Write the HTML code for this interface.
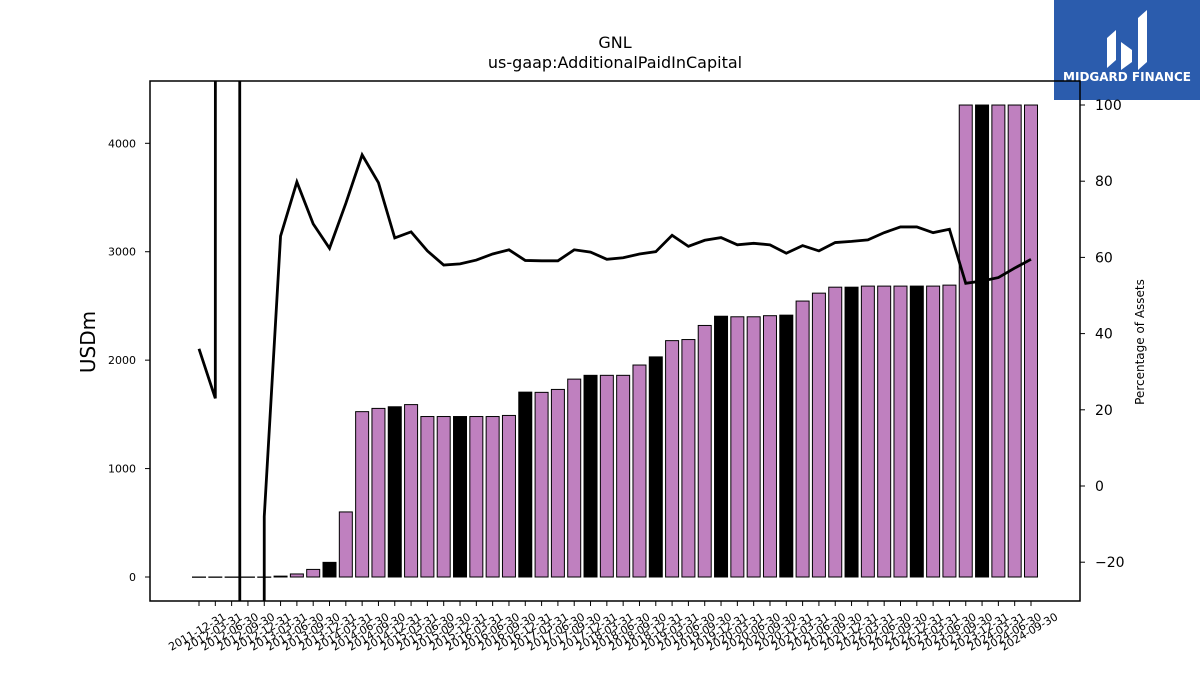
<!DOCTYPE html>
<html><head><meta charset="utf-8"><style>
html,body{margin:0;background:#fff;font-family:"Liberation Sans","DejaVu Sans",sans-serif;width:1200px;height:675px;overflow:hidden}
svg{display:block}
svg text{font-family:"DejaVu Sans","Liberation Sans",sans-serif}
</style></head><body>
<svg id="c" width="1200" height="675" viewBox="0 0 1200 675" xmlns="http://www.w3.org/2000/svg">
<rect width="1200" height="675" fill="#fff"/>
<text x="615" y="48" text-anchor="middle" font-size="16">GNL</text>
<text x="615" y="68" text-anchor="middle" font-size="16">us-gaap:AdditionalPaidInCapital</text>
<text transform="translate(95,342) rotate(-90)" text-anchor="middle" font-size="20">USDm</text>
<text transform="translate(1144,342) rotate(-90)" text-anchor="middle" font-size="12">Percentage of Assets</text>
<g>
<rect x="1054" y="0" width="146" height="100" fill="#2b5cad"/>
<path d="M1107 68 L1107 38 L1116 30 L1116 60 Z M1121 70 L1121 42 L1132 50 L1132 62 Z M1138 70 L1138 18 L1147 10 L1147 62 Z" fill="#fff"/>
<text x="1127" y="81" text-anchor="middle" font-size="12" font-weight="bold" fill="#fff">MIDGARD FINANCE</text>
</g>
<defs><clipPath id="pc"><rect x="150" y="81" width="930" height="520"/></clipPath></defs>
<g id="bars"></g>
<g id="line" clip-path="url(#pc)"></g>
<rect x="150" y="81" width="930" height="520" fill="none" stroke="#000" stroke-width="1.5"/>
<g id="axes"></g>
</svg>
<script>
const categories=["2011-12-31","2012-03-31","2012-06-30","2012-09-30","2012-12-31","2013-03-31","2013-06-30","2013-09-30","2013-12-31","2014-03-31","2014-06-30","2014-09-30","2014-12-31","2015-03-31","2015-06-30","2015-09-30","2015-12-31","2016-03-31","2016-06-30","2016-09-30","2016-12-31","2017-03-31","2017-06-30","2017-09-30","2017-12-31","2018-03-31","2018-06-30","2018-09-30","2018-12-31","2019-03-31","2019-06-30","2019-09-30","2019-12-31","2020-03-31","2020-06-30","2020-09-30","2020-12-31","2021-03-31","2021-06-30","2021-09-30","2021-12-31","2022-03-31","2022-06-30","2022-09-30","2022-12-31","2023-03-31","2023-06-30","2023-09-30","2023-12-31","2024-03-31","2024-06-30","2024-09-30"];
const barValues=[0,0,0,0,0,8,28,70,135,600,1525,1555,1570,1590,1480,1480,1480,1480,1480,1490,1705,1703,1730,1825,1860,1860,1860,1955,2030,2180,2190,2320,2405,2400,2400,2410,2415,2545,2618,2673,2673,2683,2683,2683,2683,2683,2692,4353,4353,4353,4353,4353];
const pctValues=[36,23,20000,-20000,-8,65.6,79.8,68.8,62.4,74.2,86.9,79.6,65.1,66.7,61.7,58,58.3,59.3,60.9,62,59.2,59.1,59.1,62,61.4,59.5,59.9,60.9,61.5,65.8,62.9,64.5,65.2,63.3,63.7,63.3,61.1,63.1,61.7,63.9,64.2,64.6,66.5,68,68,66.5,67.4,53.2,53.8,54.7,57.2,59.5];
const leftTicks=[0,1000,2000,3000,4000];
const rightTicks=[-20,0,20,40,60,80,100];
const NS="http://www.w3.org/2000/svg";
const xS=i=>199+i*(1031-199)/51;
const yL=v=>577-v*(577-143.3)/4000;
const yR=v=>486-v*(486-105)/100;
function mk(t,a,p){const e=document.createElementNS(NS,t);for(const k in a)e.setAttribute(k,a[k]);p.appendChild(e);return e;}
const bars=document.getElementById('bars');
barValues.forEach((v,i)=>{
  const y0=yL(0),y1=yL(v);
  const r=mk('rect',{x:xS(i)-6.5,y:Math.min(y0,y1),width:13,height:Math.max(Math.abs(y0-y1),0.3),fill:i%4===0?'#000':'#bf80bf',stroke:'#000','stroke-width':1},bars);
  
  
});
const line=document.getElementById('line');
const pl=mk('polyline',{points:pctValues.map((v,i)=>xS(i)+','+yR(v)).join(' '),fill:'none',stroke:'#000','stroke-width':2.8,'stroke-linejoin':'miter'},line);


const ax=document.getElementById('axes');
leftTicks.forEach(v=>{
  const y=yL(v);
  mk('line',{x1:145,x2:150,y1:y,y2:y,stroke:'#000'},ax);
  const t=mk('text',{x:136,y:y+4,'text-anchor':'end','font-size':11},ax);t.textContent=v;
  
  
});
rightTicks.forEach(v=>{
  const y=yR(v);
  mk('line',{x1:1080,x2:1085,y1:y,y2:y,stroke:'#000'},ax);
  const t=mk('text',{x:1095,y:y+5,'font-size':14},ax);t.textContent=v<0?'\u2212'+(-v):v;
  
  
});
categories.forEach((c,i)=>{
  const x=xS(i);
  mk('line',{x1:x,x2:x,y1:601,y2:606,stroke:'#000'},ax);
  const t=mk('text',{transform:`translate(${x},${635}) rotate(-30)`,'text-anchor':'middle','font-size':11},ax);t.textContent=c;
  
  
});
</script>
</body></html>
